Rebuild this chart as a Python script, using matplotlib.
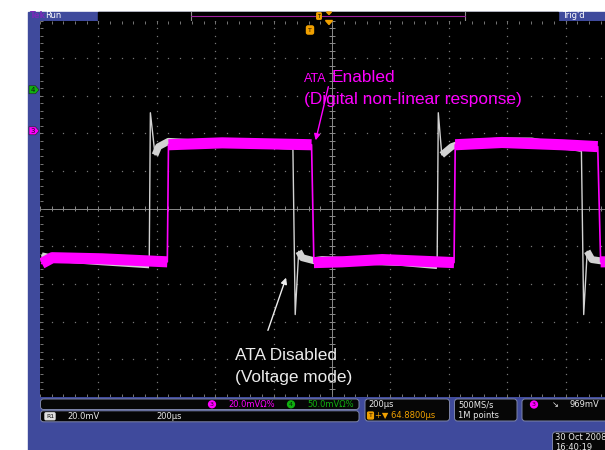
import numpy as np
import matplotlib.pyplot as plt
from matplotlib.patches import Rectangle, FancyBboxPatch, Polygon

# channel 3 (magenta): ATA enabled - time and level in graticule divisions
ch3_t = [-4.97, -4.79, -3.94, -2.82, -2.80, -1.88, -0.35, -0.31, 0.17, 0.86,
         2.09, 2.11, 2.91, 3.94, 4.55, 4.60, 4.72]
ch3_v = [-1.45, -1.30, -1.33, -1.41, 1.70, 1.75, 1.70, -1.43, -1.41, -1.35,
         -1.43, 1.70, 1.76, 1.70, 1.65, -1.41, -1.41]

# channel 4 (grey): ATA disabled, voltage mode
ch4_t = [-4.97, -4.76, -3.94, -3.13, -3.11, -3.03, -2.97, -2.80, -2.23, -1.20,
         -0.67, -0.63, -0.57, -0.51, -0.31, -0.17, 1.20, 1.80, 1.82, 1.88,
         2.05, 2.23, 2.91, 3.42, 3.77, 4.20, 4.27, 4.31, 4.37, 4.45, 4.72]
ch4_v = [-1.25, -1.32, -1.41, -1.49, 2.55, 1.43, 1.65, 1.79, 1.74, 1.70,
         1.66, -2.81, -1.13, -1.30, -1.38, -1.35, -1.43, -1.51, 2.55, 1.43,
         1.65, 1.75, 1.80, 1.80, 1.70, 1.62, 1.60, -2.81, -1.13, -1.35, -1.41]

# channel ground markers (div)
ch3_ref = 2.07
ch4_ref = 3.16

# readouts
ch3_scale = '20.0mVΩ%'
ch4_scale = '50.0mVΩ%'
ref_scale = '20.0mV'
time_scale = '200µs'
trig_pos = '+▼ 64.8800µs'
sample_rate = '500MS/s'
record_len = '1M points'
trig_level = '969mV'
date_str = '30 Oct 2008'
time_str = '16:40:19'

W, H = 605, 450
blue = '#3f4a9c'
magenta = '#ff00ff'
grey = '#d2d2d2'
green = '#10b010'
orange = '#f0a000'
ui_font = 'DejaVu Sans'
note_font = ['Liberation Sans', 'DejaVu Sans']

fig = plt.figure(figsize=(W / 100, H / 100), dpi=100)
fig.patch.set_facecolor('white')

# background chrome in pixel coordinates
bg = fig.add_axes([0, 0, 1, 1], zorder=0)
bg.set_xlim(0, W)
bg.set_ylim(H, 0)
bg.axis('off')
bg.add_patch(Rectangle((28, 11.5), W - 28, H - 11.5, color=blue))
bg.add_patch(Rectangle((98, 11.5), 460, 8, color='black'))
bg.plot([191, 191], [12, 19.5], color='#909090', lw=0.8)
bg.plot([465, 465], [12, 19.5], color='#909090', lw=0.8)
bg.plot([191, 465], [16, 16], color='#a020a0', lw=0.8)
bg.text(319, 16, 'T', color='black', fontsize=3.5, ha='center', va='center', family=ui_font,
        bbox=dict(boxstyle='round,pad=0.15', fc=orange, ec=orange))
bg.add_patch(Polygon([[326.5, 12], [331.5, 12], [329, 14.5]], color=orange))
bg.text(30, 15.8, 'Tek', color='#7a2ab8', fontsize=6, weight='bold', va='center', family=ui_font)
bg.text(45, 15.8, 'Run', color='white', fontsize=6, va='center', family=ui_font)
bg.text(562, 15.8, "Trig'd", color='white', fontsize=6, va='center', family=ui_font)

# graticule
x_left, div_w = 40, 58.4
y_top, y_bot = 20.5, 397
ax = fig.add_axes([x_left / W, 1 - y_bot / H, 10 * div_w / W, (y_bot - y_top) / H], zorder=1)
ax.set_facecolor('black')
ax.set_xlim(-5, 5)
ax.set_ylim(-5, 5)
ax.set_xticks([])
ax.set_yticks([])
for s in ax.spines.values():
    s.set_visible(False)

minor = np.arange(-25, 26) / 5
gcol = '#767676'
for k in [-4, -3, -2, -1, 1, 2, 3, 4]:
    ax.plot(np.full_like(minor, k), minor, ls='none', marker='s', ms=0.9, mew=0, color=gcol)
    ax.plot(minor, np.full_like(minor, k), ls='none', marker='s', ms=0.9, mew=0, color=gcol)
ax.axhline(0, color='#8a8a8a', lw=0.7)
ax.axvline(0, color='#8a8a8a', lw=0.7)
ax.vlines(minor, -0.06, 0.06, color='#8a8a8a', lw=0.7)
ax.hlines(minor, -0.045, 0.045, color='#8a8a8a', lw=0.7)
ax.vlines(minor, -5, -4.92, color=gcol, lw=0.7)
ax.vlines(minor, 4.92, 5, color=gcol, lw=0.7)
ax.hlines(minor, -5, -4.95, color=gcol, lw=0.7)


def band(t, v, jump=0.3):
    # keep only the flat parts of a trace (the noisy plateaus)
    t = np.asarray(t)
    v = np.asarray(v)
    flat = np.abs(np.diff(v)) < jump
    bt, bv = [], []
    for i, f in enumerate(flat):
        if f:
            if i == 0 or not flat[i - 1]:
                bt += [np.nan, t[i]]
                bv += [np.nan, v[i]]
            bt.append(t[i + 1])
            bv.append(v[i + 1])
    return bt, bv


ax.plot(ch4_t, ch4_v, color=grey, lw=1.0)
bt, bv = band(ch4_t, ch4_v)
ax.plot(bt, bv, color=grey, lw=5, solid_capstyle='butt')
ax.plot(ch3_t, ch3_v, color=magenta, lw=1.2)
bt, bv = band(ch3_t, ch3_v)
ax.plot(bt, bv, color=magenta, lw=8, solid_capstyle='butt')

# foreground: markers, annotations, readouts (pixel coordinates)
fg = fig.add_axes([0, 0, 1, 1], zorder=2)
fg.set_xlim(0, W)
fg.set_ylim(H, 0)
fg.axis('off')
fg.patch.set_alpha(0)

to_px = lambda v: 208.75 - v * (y_bot - y_top) / 10
for ref, col, lab in [(ch4_ref, green, '4'), (ch3_ref, magenta, '3')]:
    yy = to_px(ref)
    fg.add_patch(Polygon([[29, yy - 4], [35.5, yy - 4], [39, yy], [35.5, yy + 4], [29, yy + 4]],
                         fc=col, ec='#202020', lw=0.4))
    fg.text(33, yy, lab, fontsize=5, ha='center', va='center', color='#101010', family=ui_font)

fg.text(310, 30, 'T', color='#201000', fontsize=4.5, ha='center', va='center', family=ui_font,
        bbox=dict(boxstyle='round,pad=0.25', fc=orange, ec=orange))
fg.add_patch(Polygon([[325.5, 20.5], [332.5, 20.5], [329, 24.5]], color=orange))

# annotations
fg.text(304, 82, 'ATA', color=magenta, fontsize=9, family=note_font, va='baseline')
fg.text(332, 82, 'Enabled', color=magenta, fontsize=12.4, family=note_font, va='baseline')
fg.text(304, 104, '(Digital non-linear response)', color=magenta, fontsize=12.4,
        family=note_font, va='baseline')
fg.annotate('', xy=(315, 143), xytext=(329, 84),
            arrowprops=dict(arrowstyle='-|>', color=magenta, lw=1.0, mutation_scale=9))
fg.text(235, 360, 'ATA Disabled', color='#ececec', fontsize=12.4, family=note_font, va='baseline')
fg.text(235, 382, '(Voltage mode)', color='#ececec', fontsize=12.4, family=note_font, va='baseline')
fg.annotate('', xy=(287, 275), xytext=(267, 333),
            arrowprops=dict(arrowstyle='-|>', color='#ececec', lw=1.0, mutation_scale=9))

# readout boxes
box_ec = '#7d84a8'
for (bx, by, bw, bh) in [(40.5, 399, 318.5, 10.5), (40.5, 410.8, 318.5, 11),
                         (365, 399, 84.5, 22), (454.5, 399, 62.5, 22),
                         (522, 399, 100, 22), (552.5, 432, 70, 25)]:
    fg.add_patch(FancyBboxPatch((bx, by), bw, bh, boxstyle='round,pad=0,rounding_size=3',
                                fc='#060606', ec=box_ec, lw=0.7))

fs = 6
fg.text(212, 404.3, '3', fontsize=4.5, ha='center', va='center', color='#200020', family=ui_font,
        bbox=dict(boxstyle='circle,pad=0.15', fc=magenta, ec=magenta))
fg.text(228, 404.3, ch3_scale, fontsize=fs, va='center', color=magenta, family=ui_font)
fg.text(291, 404.3, '4', fontsize=4.5, ha='center', va='center', color='#002000', family=ui_font,
        bbox=dict(boxstyle='circle,pad=0.15', fc=green, ec=green))
fg.text(307, 404.3, ch4_scale, fontsize=fs, va='center', color=green, family=ui_font)

fg.text(50, 416.3, 'R1', fontsize=4.5, ha='center', va='center', color='#101010', family=ui_font,
        bbox=dict(boxstyle='round,pad=0.15', fc='#e0e0e0', ec='#e0e0e0'))
fg.text(67, 416.3, ref_scale, fontsize=fs, va='center', color='#e8e8e8', family=ui_font)
fg.text(156, 416.3, time_scale, fontsize=fs, va='center', color='#e8e8e8', family=ui_font)

fg.text(368, 404.5, time_scale, fontsize=fs, va='center', color='#e8e8e8', family=ui_font)
fg.text(370.5, 415.5, 'T', fontsize=4.5, ha='center', va='center', color='#201000', family=ui_font,
        bbox=dict(boxstyle='round,pad=0.15', fc=orange, ec=orange))
fg.text(375, 415.5, trig_pos, fontsize=fs, va='center', color=orange, family=ui_font)

fg.text(458, 404.5, sample_rate, fontsize=fs, va='center', color='#e8e8e8', family=ui_font)
fg.text(458, 415.5, record_len, fontsize=fs, va='center', color='#e8e8e8', family=ui_font)

fg.text(534, 404.5, '3', fontsize=4.5, ha='center', va='center', color='#200020', family=ui_font,
        bbox=dict(boxstyle='circle,pad=0.15', fc=magenta, ec=magenta))
fg.text(552, 404.5, '↘', fontsize=fs, va='center', color='#e8e8e8', family=ui_font)
fg.text(569, 404.5, trig_level, fontsize=fs, va='center', color='#e8e8e8', family=ui_font)

fg.text(555, 437.5, date_str, fontsize=fs, va='center', color='#e8e8e8', family=ui_font)
fg.text(555, 447, time_str, fontsize=fs, va='center', color='#e8e8e8', family=ui_font)

fig.savefig('out.png', dpi=100, facecolor='white')
